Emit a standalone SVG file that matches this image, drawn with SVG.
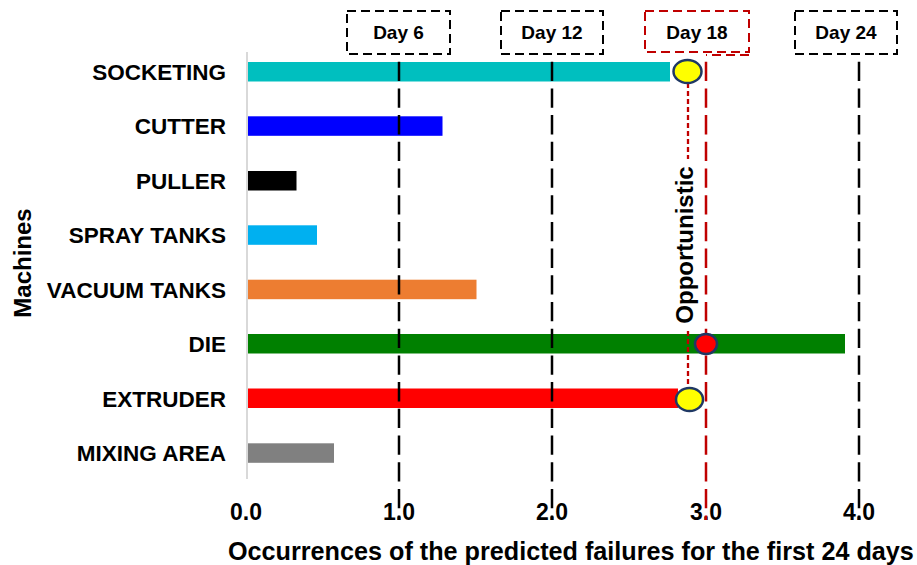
<svg xmlns="http://www.w3.org/2000/svg" width="917" height="565" viewBox="0 0 917 565">
<style>
text{font-family:"Liberation Sans",Arial,sans-serif;font-weight:bold;fill:#000}
.lbl{font-size:22.5px;text-anchor:end}
.tick{font-size:23px;text-anchor:middle}
.day{font-size:19px;text-anchor:middle}
.box{fill:none;stroke:#000;stroke-width:2;stroke-dasharray:9 5}
.boxr{fill:none;stroke:#C00000;stroke-width:2;stroke-dasharray:9 5}
.vl{fill:none;stroke:#000;stroke-width:2.5;stroke-dasharray:19.3 7.4}
.vr{fill:none;stroke:#C00000;stroke-width:2.5;stroke-dasharray:19.3 7.4}
.dot{fill:none;stroke:#C00000;stroke-width:2.3;stroke-dasharray:5 3}
.mk{stroke:#1F3864;stroke-width:2.5}
</style>
<rect width="917" height="565" fill="#fff"/>
<g id="axes">
<line x1="247" y1="52" x2="247" y2="479" stroke="#D9D9D9" stroke-width="2"/>
<text class="tick" x="246" y="520">0.0</text>
<text class="tick" x="399" y="520">1.0</text>
<text class="tick" x="552" y="520">2.0</text>
<text class="tick" x="706" y="520">3.0</text>
<text class="tick" x="859" y="520">4.0</text>
<text x="228" y="560" style="font-size:25.2px">Occurrences of the predicted failures for the first 24 days</text>
<text transform="translate(31,263) rotate(-90)" style="font-size:24px;text-anchor:middle">Machines</text>
</g>
<g id="socketing"><text class="lbl" x="226" y="79.5">SOCKETING</text><rect x="248" y="62" width="422" height="19.5" fill="#00BFBF"/></g>
<g id="cutter"><text class="lbl" x="226" y="134">CUTTER</text><rect x="248" y="116.3" width="194.5" height="19.5" fill="#0000FF"/></g>
<g id="puller"><text class="lbl" x="226" y="188.5">PULLER</text><rect x="248" y="171" width="48.5" height="19.5" fill="#000"/></g>
<g id="spray-tanks"><text class="lbl" x="226" y="243">SPRAY TANKS</text><rect x="248" y="225.3" width="69" height="19.5" fill="#00B0F0"/></g>
<g id="vacuum-tanks"><text class="lbl" x="226" y="297.5">VACUUM TANKS</text><rect x="248" y="279.7" width="228.5" height="19.5" fill="#ED7D31"/></g>
<g id="die"><text class="lbl" x="226" y="352">DIE</text><rect x="248" y="334" width="597" height="19.5" fill="#008000"/></g>
<g id="extruder"><text class="lbl" x="226" y="406.5">EXTRUDER</text><rect x="248" y="388.5" width="430" height="19.5" fill="#FF0000"/></g>
<g id="mixing-area"><text class="lbl" x="226" y="461">MIXING AREA</text><rect x="248" y="443.3" width="86" height="19.5" fill="#808080"/></g>
<g id="day6"><rect class="box" x="347" y="11" width="103" height="43"/><text class="day" x="398.5" y="38.5">Day 6</text></g>
<g id="day12"><rect class="box" x="501" y="11" width="102" height="43"/><text class="day" x="552" y="38.5">Day 12</text></g>
<g id="day18"><rect class="boxr" x="645" y="11" width="104" height="41"/><text class="day" x="697" y="38.5">Day 18</text></g>
<g id="day24"><rect class="box" x="795" y="11" width="102" height="43"/><text class="day" x="846" y="38.5">Day 24</text></g>
<g id="connectors">
<line class="vl" x1="399" y1="61.7" x2="399" y2="520"/>
<line class="vl" x1="552" y1="61.7" x2="552" y2="520"/>
<line class="vl" x1="859" y1="61.7" x2="859" y2="520"/>
<path d="M749,55 H706" fill="none" stroke="#C00000" stroke-width="2" stroke-dasharray="9 5"/>
<line class="vr" x1="706" y1="61.7" x2="706" y2="520"/>
<line class="dot" x1="688" y1="83" x2="688" y2="159"/>
<line class="dot" x1="688" y1="331" x2="688" y2="387"/>
</g>
<g id="opportunistic"><text transform="translate(693,245) rotate(-90)" style="font-size:24px;text-anchor:middle">Opportunistic</text></g>
<g id="markers">
<ellipse class="mk" cx="687.5" cy="71.5" rx="14" ry="11.5" fill="#FFFF00"/>
<ellipse class="mk" cx="706" cy="344" rx="11" ry="10" fill="#FF0000"/>
<ellipse class="mk" cx="689.5" cy="399.5" rx="13.5" ry="11.5" fill="#FFFF00"/>
</g>
</svg>
